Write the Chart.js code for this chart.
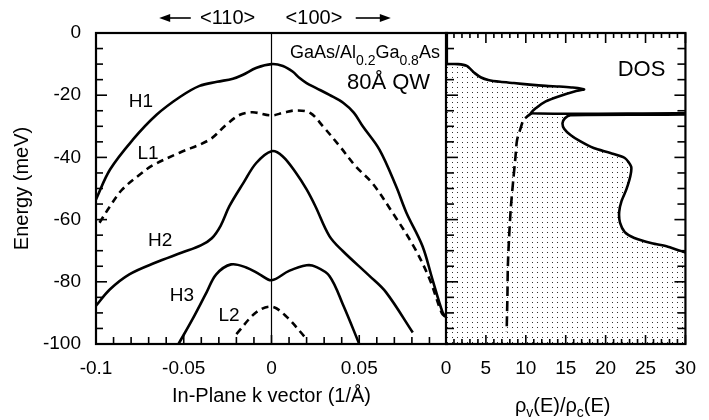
<!DOCTYPE html>
<html><head><meta charset="utf-8">
<script src="https://cdn.jsdelivr.net/npm/chart.js@4/dist/chart.umd.min.js"></script>
<style>
html,body{margin:0;padding:0;background:#fff;}
#wrap{position:relative;width:709px;height:420px;background:#fff;}
canvas{position:absolute;left:0;top:0;}
</style></head><body>
<div id="wrap"><canvas id="c1" width="709" height="420"></canvas><canvas id="c2" width="709" height="420"></canvas></div>
<script>
// ---- tick labels ----
const kTickLabels = [-0.1, -0.05, 0, 0.05];
const energyTickLabels = [0, -20, -40, -60, -80, -100];
const dosTickLabels = [0, 5, 10, 15, 20, 25, 30];

// ---- band dispersion curves: [k (1/Å), E (meV)] ----
const H1 = [[-0.1,-53.5],[-0.092,-43.9],[-0.079,-34.3],[-0.0655,-26.3],[-0.052,-20.5],[-0.041,-17],[-0.031,-15.7],[-0.022,-14.7],[-0.0165,-13.5],[-0.0085,-11.2],[0,-10],[0.0065,-10.6],[0.012,-12.4],[0.016,-14.5],[0.02,-16.1],[0.0255,-17.7],[0.033,-19.9],[0.041,-22.5],[0.047,-25.7],[0.052,-30],[0.0615,-37.5],[0.071,-49.3],[0.0768,-57.7],[0.086,-68.5],[0.0917,-79.2],[0.0974,-89.7],[0.0995,-91.5]];
const L1 = [[-0.098,-61],[-0.092,-55.7],[-0.085,-50.3],[-0.075,-45.5],[-0.0675,-42.5],[-0.0524,-38.5],[-0.0353,-34.3],[-0.0258,-29.5],[-0.018,-26.3],[-0.0107,-25.5],[0,-26.5],[0.007,-25.6],[0.014,-24.9],[0.022,-25.7],[0.0293,-30],[0.039,-36.5],[0.048,-42.9],[0.0575,-48.3],[0.069,-57.8],[0.081,-68.6],[0.09,-79],[0.097,-90],[0.0995,-91.5]];
const H2 = [[-0.1,-87.7],[-0.092,-82.4],[-0.081,-77.6],[-0.066,-73.8],[-0.051,-70.6],[-0.04,-68.2],[-0.034,-66],[-0.029,-62],[-0.024,-55.7],[-0.016,-48.2],[-0.0087,-41.8],[0,-38],[0.0063,-39.6],[0.014,-45],[0.02,-50.3],[0.025,-55.7],[0.033,-65.3],[0.0406,-70.1],[0.0558,-78.1],[0.0653,-83.4],[0.0805,-96.3]];
const H3 = [[-0.053,-100],[-0.045,-92],[-0.037,-83.4],[-0.0315,-77.6],[-0.023,-74.4],[-0.0144,-75.4],[-0.0068,-77.6],[0,-79.5],[0.01,-76.5],[0.02,-74.7],[0.025,-75.1],[0.033,-78.1],[0.041,-87.7],[0.05,-100]];
const L2 = [[-0.02,-96.8],[-0.0087,-89.8],[0,-88],[0.008,-90.9],[0.02,-98.4]];

// ---- density of states: [rho_v/rho_c, E (meV)] ----
const dosBoundary = [[0,-10],[1.5,-10],[2.6,-10.6],[3.6,-12.9],[4.4,-14.3],[5.3,-15.1],[6.8,-15.7],[8.5,-16.1],[10.5,-16.6],[12.5,-17],[14.2,-17.2],[15.7,-17.5],[17.3,-18.1],[16.1,-18.8],[14.1,-20.4],[12.5,-22],[11.3,-24.1],[10.7,-25.8],[30,-25.8],[30,-26.2],[15.6,-26.4],[14.9,-27.4],[14.6,-29],[14.8,-30.8],[15.6,-32.8],[16.8,-34.8],[18.5,-37],[20.6,-38.6],[22.4,-40.2],[23.2,-43],[23.1,-46],[22.6,-50.3],[22,-54],[21.7,-57.5],[21.8,-61],[22.4,-64],[23.6,-65.9],[25.8,-67.6],[27.8,-68.7],[30,-70.6]];
const dosClosure = [[30,-100],[0,-100]];
const dosDashed = [[10.9,-25.4],[10.2,-26.8],[9.7,-28],[9.3,-31],[8.9,-34.5],[8.7,-40],[8.4,-48],[8.1,-57],[7.9,-66],[7.75,-75],[7.7,-84],[7.6,-96]];

const FONT = "'Liberation Sans', Arial, Helvetica, sans-serif";
Chart.defaults.font.family = FONT;
Chart.defaults.color = '#000';

const toXY = a => a.map(p => ({x: p[0], y: p[1]}));
function lineDs(pts, dash, tension) {
  return {data: toXY(pts), showLine: true, borderColor: '#000', borderWidth: 2.6,
          borderDash: dash || [], pointRadius: 0, tension: tension === undefined ? 0.35 : tension, fill: false};
}
function seg(ctx, x1, y1, x2, y2) { ctx.beginPath(); ctx.moveTo(x1, y1); ctx.lineTo(x2, y2); ctx.stroke(); }
function rich(ctx, parts, x, y, align) {
  let w = 0;
  parts.forEach(p => { ctx.font = p[1] + 'px ' + FONT; w += ctx.measureText(p[0]).width; });
  let cx = align === 'center' ? x - w / 2 : x;
  ctx.textAlign = 'left'; ctx.textBaseline = 'alphabetic';
  parts.forEach(p => { ctx.font = p[1] + 'px ' + FONT; ctx.fillText(p[0], cx, y + p[2]); cx += ctx.measureText(p[0]).width; });
}
function arrow(ctx, xTail, xHead, y) {
  const dir = Math.sign(xHead - xTail);
  ctx.lineWidth = 1.6;
  seg(ctx, xTail, y, xHead - dir * 8, y);
  ctx.beginPath(); ctx.moveTo(xHead, y); ctx.lineTo(xHead - dir * 11, y - 4); ctx.lineTo(xHead - dir * 11, y + 4); ctx.closePath(); ctx.fill();
}

const leftDeco = {
  id: 'leftDeco',
  afterDraw(chart) {
    const {ctx, chartArea: a, scales: {x, y}} = chart;
    ctx.save();
    ctx.strokeStyle = '#000'; ctx.fillStyle = '#000';
    ctx.lineWidth = 1.2;
    const x0 = x.getPixelForValue(0);
    seg(ctx, x0, a.top, x0, a.bottom);
    ctx.lineWidth = 1.6;
    for (let i = 0; i >= -100; i -= 5) { const py = y.getPixelForValue(i); seg(ctx, a.left, py, a.left + (i % 20 === 0 ? 11 : 7), py); }
    for (let i = -10; i <= 10; i++) { const px = x.getPixelForValue(i / 100); seg(ctx, px, a.bottom, px, a.bottom - (i % 5 === 0 ? 9 : 7)); }
    ctx.lineWidth = 2.2;
    ctx.strokeRect(a.left, a.top, a.right - a.left, a.bottom - a.top);
    const labs = [['H1', -0.0744, -22.2], ['L1', -0.0704, -38.9], ['H2', -0.0635, -66.9], ['H3', -0.051, -84.6], ['L2', -0.0242, -91]];
    ctx.font = '19px ' + FONT; ctx.textAlign = 'center'; ctx.textBaseline = 'middle';
    labs.forEach(l => ctx.fillText(l[0], x.getPixelForValue(l[1]), y.getPixelForValue(l[2])));
    rich(ctx, [['GaAs/Al', 18, 0], ['0.2', 14, 7], ['Ga', 18, 0], ['0.8', 14, 7], ['As', 18, 0]], x.getPixelForValue(0.0105), y.getPixelForValue(-8.1), 'left');
    ctx.font = '22px ' + FONT; ctx.textAlign = 'center'; ctx.textBaseline = 'middle';
    ctx.fillText('80Å QW', x.getPixelForValue(0.0667), y.getPixelForValue(-16));
    ctx.font = '20px ' + FONT; ctx.textBaseline = 'middle';
    ctx.fillText('<110>', x.getPixelForValue(-0.025), a.top - 15);
    ctx.fillText('<100>', x.getPixelForValue(0.0242), a.top - 15);
    arrow(ctx, x.getPixelForValue(-0.046), x.getPixelForValue(-0.064), a.top - 15);
    arrow(ctx, x.getPixelForValue(0.048), x.getPixelForValue(0.068), a.top - 15);
    ctx.restore();
  }
};

const rightDeco = {
  id: 'rightDeco',
  afterDraw(chart) {
    const {ctx, chartArea: a, scales: {x, y}} = chart;
    ctx.save();
    ctx.strokeStyle = '#000'; ctx.fillStyle = '#000';
    ctx.lineWidth = 1.6;
    for (let i = 0; i >= -100; i -= 5) {
      const py = y.getPixelForValue(i);
      seg(ctx, a.left, py, a.left + (i % 20 === 0 ? 12 : 8), py);
      seg(ctx, a.right, py, a.right - (i % 20 === 0 ? 11 : 8), py);
    }
    for (let i = 0; i <= 30; i++) {
      const px = x.getPixelForValue(i);
      seg(ctx, px, a.top, px, a.top + (i % 5 === 0 ? 10 : 5));
      seg(ctx, px, a.bottom, px, a.bottom - (i % 5 === 0 ? 9 : 5));
    }
    ctx.lineWidth = 2.2;
    ctx.strokeRect(a.left, a.top, a.right - a.left, a.bottom - a.top);
    ctx.font = '22px ' + FONT; ctx.textAlign = 'center'; ctx.textBaseline = 'middle';
    ctx.fillText('DOS', x.getPixelForValue(24.5), y.getPixelForValue(-12));
    rich(ctx, [['ρ', 20, 0], ['v', 14, 5], ['(E)/ρ', 20, 0], ['c', 14, 5], ['(E)', 20, 0]], (a.left + a.right) / 2 - 3, 412, 'center');
    ctx.restore();
  }
};

const commonOpts = {
  responsive: false, animation: false, events: [],
  plugins: {legend: {display: false}, tooltip: {enabled: false}}
};

new Chart(document.getElementById('c1'), {
  type: 'scatter',
  data: {datasets: [lineDs(H1), lineDs(L1, [7, 5]), lineDs(H2), lineDs(H3), lineDs(L2, [7, 5])]},
  options: Object.assign({}, commonOpts, {
    layout: {padding: {left: 0, top: 33, right: 262, bottom: 0}},
    scales: {
      x: {type: 'linear', min: -0.1, max: 0.1,
          ticks: {stepSize: 0.01, autoSkip: false, maxRotation: 0, padding: 13, font: {size: 19},
                  callback: v => { const r = Math.round(v * 100) / 100; return kTickLabels.includes(r) ? String(r) : ''; }},
          grid: {display: false, drawTicks: false}, border: {display: false},
          title: {display: true, text: 'In-Plane k vector (1/Å)', font: {size: 20}, padding: {top: 12, bottom: 12}},
          afterFit: s => { s.height = 76; }},
      y: {type: 'linear', min: -100, max: 0,
          ticks: {stepSize: 5, autoSkip: false, padding: 15, font: {size: 19},
                  callback: v => energyTickLabels.includes(v) ? String(v) : ''},
          grid: {display: false, drawTicks: false}, border: {display: false},
          title: {display: true, text: 'Energy (meV)', font: {size: 20}, padding: {top: 10, bottom: 0}},
          afterFit: s => { s.width = 96; }}
    }
  }),
  plugins: [leftDeco]
});

// dotted fill pattern
const pc = document.createElement('canvas'); pc.width = 5; pc.height = 5;
const pctx = pc.getContext('2d');
pctx.fillStyle = '#fff'; pctx.fillRect(0, 0, 5, 5);
pctx.fillStyle = '#333'; pctx.fillRect(2, 2, 1, 1);
const dotPattern = document.getElementById('c2').getContext('2d').createPattern(pc, 'repeat');

// Chart.js draws the first dataset on top, so the filled area is listed last
new Chart(document.getElementById('c2'), {
  type: 'scatter',
  data: {datasets: [
    lineDs(dosBoundary, [], 0.25),
    lineDs(dosDashed, [10, 5], 0.3),
    {data: toXY(dosBoundary.concat(dosClosure)), showLine: true, borderWidth: 0, borderColor: 'rgba(0,0,0,0)',
     backgroundColor: dotPattern, fill: 'shape', pointRadius: 0, tension: 0}
  ]},
  options: Object.assign({}, commonOpts, {
    layout: {padding: {left: 446, top: 33, right: 14, bottom: 0}},
    scales: {
      x: {type: 'linear', min: 0, max: 30,
          ticks: {stepSize: 1, autoSkip: false, maxRotation: 0, padding: 13, font: {size: 19},
                  callback: v => dosTickLabels.includes(v) ? String(v) : ''},
          grid: {display: false, drawTicks: false}, border: {display: false},
          afterFit: s => { s.height = 76; }},
      y: {type: 'linear', min: -100, max: 0, display: false}
    }
  }),
  plugins: [rightDeco]
});
</script>
</body></html>
